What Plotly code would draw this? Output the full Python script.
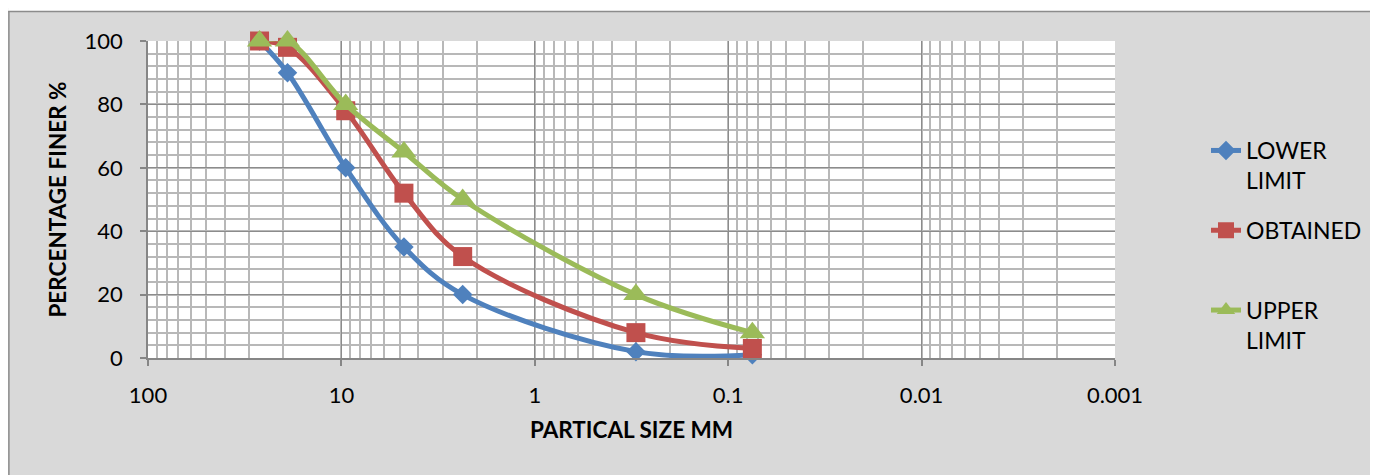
import plotly.graph_objects as go

# ---- data ----
sizes_mm = [26.5, 19, 9.5, 4.75, 2.36, 0.3, 0.075]
lower_limit = [100, 90, 60, 35, 20, 2, 1]
obtained = [100, 98, 78, 52, 32, 8, 3]
upper_limit = [100, 100, 80, 65, 50, 20, 8]
x_tick_vals = [100, 10, 1, 0.1, 0.01, 0.001]
x_tick_text = ["100", "10", "1", "0.1", "0.01", "0.001"]
y_tick_vals = [0, 20, 40, 60, 80, 100]

# ---- layout constants (figure sits at page offset 8,8) ----
W, H = 1370, 467
ML, MR, MT, MB = 140, 262, 33, 117
PW, PH = W - ML - MR, H - MT - MB
FONT = "Lato, 'Open Sans', sans-serif"

def px_x(p):
    return (p - ML) / PW

def px_y(p):
    return (H - MB - p) / PH

series = [
    ("LOWER<br>LIMIT", lower_limit, "#4F81BD", "diamond", 15),
    ("OBTAINED<br>&nbsp;", obtained, "#C0504D", "square", 19),
    ("UPPER<br>LIMIT", upper_limit, "#9BBB59", "triangle-up", 22),
]

fig = go.Figure()
for i, (name, vals, color, sym, ms) in enumerate(series):
    fig.add_trace(go.Scatter(
        x=sizes_mm, y=vals, name=name, mode="lines+markers",
        line=dict(color=color, width=5, shape="spline", smoothing=1),
        marker=dict(symbol=sym, size=ms, color=color),
        legendgroup=str(i), cliponaxis=False,
    ))

axis_line = "#868686"
fig.update_xaxes(
    type="log", range=[2, -3],
    tickmode="array", tickvals=x_tick_vals, ticktext=x_tick_text,
    showgrid=True, gridcolor="#8c8c8c", gridwidth=1,
    minor=dict(dtick="D1", showgrid=True, gridcolor="#b8b8b8", gridwidth=1.5, ticks=""),
    showline=True, linecolor=axis_line, linewidth=1.5,
    ticks="outside", ticklen=6, tickcolor=axis_line, tickwidth=1.5,
    tickfont=dict(family=FONT, size=22, color="#000"),
    ticklabelstandoff=11,
    zeroline=False,
    title=dict(text="<b>PARTICAL SIZE MM</b>", font=dict(family=FONT, size=22.5, color="#000"), standoff=15),
)
fig.update_yaxes(
    range=[0, 100], tickmode="array", tickvals=y_tick_vals,
    showgrid=True, gridcolor="#8c8c8c", gridwidth=1,
    minor=dict(dtick=4, showgrid=True, gridcolor="#b8b8b8", gridwidth=1.5, ticks=""),
    showline=True, linecolor=axis_line, linewidth=1.5,
    ticks="outside", ticklen=6, tickcolor=axis_line, tickwidth=1.5,
    tickfont=dict(family=FONT, size=22, color="#000"),
    ticklabelstandoff=13,
    zeroline=False,
    title=dict(text="<b>PERCENTAGE FINER %</b>", font=dict(family=FONT, size=22.5, color="#000"), standoff=12),
)

shapes = [
    # thin white strip above the chart box
    dict(type="rect", xref="paper", yref="paper", x0=px_x(0), x1=px_x(W), y0=px_y(3), y1=px_y(0),
         fillcolor="white", line=dict(width=0), layer="below"),
    # chart box border
    dict(type="line", xref="paper", yref="paper", x0=px_x(0), x1=px_x(W), y0=px_y(3.5), y1=px_y(3.5),
         line=dict(color="#8c8c8c", width=1.5)),
    dict(type="line", xref="paper", yref="paper", x0=px_x(0.75), x1=px_x(0.75), y0=px_y(3), y1=px_y(H),
         line=dict(color="#8c8c8c", width=1.5)),
]

fig.update_layout(
    width=W, height=H,
    margin=dict(l=ML, r=MR, t=MT, b=MB),
    paper_bgcolor="#d9d9d9", plot_bgcolor="white",
    font=dict(family=FONT, size=22, color="#000"),
    shapes=shapes,
    legend=dict(
        x=px_x(1198), y=px_y(121), xanchor="left", yanchor="top",
        bgcolor="rgba(0,0,0,0)", font=dict(family=FONT, size=23, color="#000"),
        traceorder="grouped", tracegroupgap=17, valign="top",
    ),
)

fig.write_html("out.html")
